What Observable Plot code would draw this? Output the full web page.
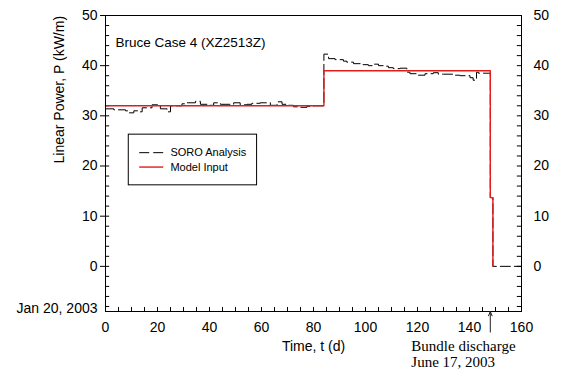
<!DOCTYPE html>
<html><head><meta charset="utf-8">
<script src="https://cdn.jsdelivr.net/npm/d3@7"></script>
<script src="https://cdn.jsdelivr.net/npm/@observablehq/plot@0.6"></script>
<style>html,body{margin:0;padding:0;background:#fff}</style>
</head><body><div id="chart"></div>
<script>
// ---- data ----
const soroDays = [0, 3.2, 7.7, 9.0, 10.9, 12.8, 14.1, 17.9, 21.1, 23.7, 25.0, 29.4, 31.5, 34.6, 36.5, 39.0, 41.6, 44.2, 49.3, 51.8, 54.4, 56.3, 59.5, 63.4, 66.0, 67.9, 69.8, 72.3, 74.9, 77.5, 80.0,
  84, 85.8, 88.3, 91.5, 92.8, 95.4, 98.6, 101.1, 103.0, 105.0, 106.9, 108.8, 110.7, 113.3, 115.9, 117.1, 119.7, 122.9, 126.1, 128.0, 129.9, 133.8, 136.3, 140.2, 141.4, 142.7, 143.4,
  148, 149, 160];
const soroPower = [31.4, 31.2, 31.0, 30.6, 31.0, 30.8, 31.6, 32.2, 31.4, 30.8, 32.0, 32.4, 32.6, 32.9, 32.3, 32.1, 32.6, 32.3, 32.6, 32.2, 32.3, 32.5, 32.6, 32.1, 32.8, 32.3, 32.1, 31.8, 31.7, 31.9, 32.0,
  42.3, 41.4, 41.2, 40.9, 40.7, 40.4, 40.2, 40.0, 40.3, 40.0, 39.9, 39.6, 39.4, 39.5, 38.7, 38.4, 38.1, 38.4, 38.6, 38.3, 38.3, 38.1, 38.0, 37.6, 37.1, 38.7, 38.5,
  13.7, 0, 0];
const modelDays = [0, 84, 148, 149];
const modelPower = [32, 39, 13.7, 0];
const xTicks = [0, 20, 40, 60, 80, 100, 120, 140, 160];
const yTicks = [0, 10, 20, 30, 40, 50];
const xMinorTicks = d3.range(5, 160, 5);
const yMinorTicks = d3.range(-8, 50, 2);
const seriesNames = ["SORO Analysis", "Model Input"];
const titleText = "Bruce Case 4 (XZ2513Z)";
const yLabel = "Linear Power, P (kW/m)";
const xLabel = "Time, t (d)";
const startLabel = "Jan 20, 2003";
const dischargeDay = 148;
const dischargeLabel = "Bundle discharge\nJune 17, 2003";

// ---- build tables ----
const soro = soroDays.map((d, i) => ({day: d, p: soroPower[i]}));
const model = modelDays.map((d, i) => ({day: d, p: modelPower[i]}));

// layout (data units for legend box)
const yMin = -9, yMax = 50, xMax = 160;
const lg = {x1: 8.95, x2: 58.3, y1: 16.15, y2: 26.25, sx1: 13.17, sx2: 22.39, tx: 24.96, rows: [22.66, 19.79]};
const RED = "#e31b1b";
const SANS = "'Liberation Sans', Arial, Helvetica, sans-serif";

const chart = Plot.plot({
  width: 572, height: 373,
  marginLeft: 105, marginRight: 51, marginTop: 15, marginBottom: 62,
  style: {fontFamily: SANS, fontSize: "14px", background: "white", color: "black"},
  x: {domain: [0, xMax]},
  y: {domain: [yMin, yMax]},
  marks: [
    // inward minor ticks
    Plot.ruleY(yMinorTicks, {x1: 0, x2: 1.6, stroke: "black", strokeWidth: 1}),
    Plot.ruleY(yMinorTicks, {x1: xMax - 1.6, x2: xMax, stroke: "black", strokeWidth: 1}),
    Plot.ruleX(xMinorTicks, {y1: yMin, y2: yMin + 0.8, stroke: "black", strokeWidth: 1}),
    // series
    Plot.line(soro, {x: "day", y: "p", curve: "step-after", stroke: "black", strokeWidth: 1, strokeDasharray: "10,4"}),
    Plot.line(model, {x: "day", y: "p", curve: "step-after", stroke: RED, strokeWidth: 1.4}),
    Plot.frame({stroke: "black", strokeWidth: 1}),
    // axes
    Plot.axisY({anchor: "left", ticks: yTicks, tickSize: 5, tickPadding: 3, label: null, fontSize: 14}),
    Plot.axisY({anchor: "right", ticks: yTicks, tickSize: 0, tickPadding: 12, label: null, fontSize: 14}),
    Plot.axisX({anchor: "bottom", ticks: xTicks, tickSize: 0, tickPadding: 11, label: null, fontSize: 14}),
    // labels
    Plot.text([yLabel], {frameAnchor: "left", rotate: -90, dx: -46, fontSize: 14}),
    Plot.text([xLabel], {frameAnchor: "bottom", dy: 39, fontSize: 14}),
    Plot.text([titleText], {frameAnchor: "top-left", dx: 10, dy: 27, textAnchor: "start", lineAnchor: "middle", fontSize: 13.5}),
    Plot.text([startLabel], {frameAnchor: "bottom-left", dx: -8, dy: -3, textAnchor: "end", lineAnchor: "middle", fontSize: 14}),
    // discharge annotation
    Plot.arrow([dischargeDay], {x1: d => d, x2: d => d, y1: yMin - 4.1, y2: yMin, stroke: "#222", strokeWidth: 1, headLength: 7, headAngle: 45}),
    Plot.text([dischargeDay], {x: d => d, y: yMin, text: () => dischargeLabel, dy: 42, dx: -79, textAnchor: "start", lineAnchor: "middle", lineHeight: 1.1, fontFamily: "'Liberation Serif', 'Times New Roman', serif", fontSize: 15}),
    // legend
    Plot.rect([0], {x1: lg.x1, x2: lg.x2, y1: lg.y1, y2: lg.y2, fill: "white", stroke: "black", strokeWidth: 1}),
    Plot.ruleY([lg.rows[0]], {x1: lg.sx1, x2: lg.sx2, stroke: "black", strokeWidth: 1, strokeDasharray: "10,4"}),
    Plot.ruleY([lg.rows[1]], {x1: lg.sx1, x2: lg.sx2, stroke: RED, strokeWidth: 1.4}),
    Plot.text(seriesNames, {x: lg.tx, y: (d, i) => lg.rows[i], textAnchor: "start", fontSize: 11})
  ]
});
document.getElementById("chart").appendChild(chart);
</script>
</body></html>
